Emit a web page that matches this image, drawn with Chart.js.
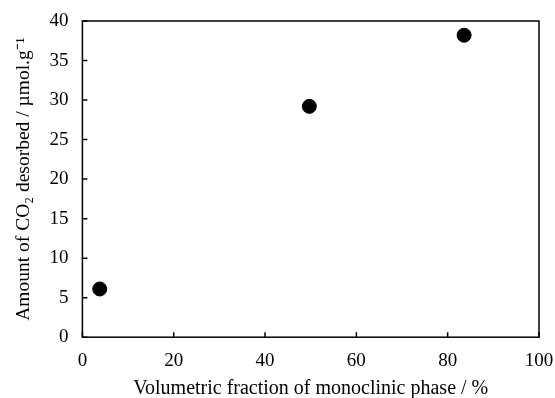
<!DOCTYPE html>
<html>
<head>
<meta charset="utf-8">
<script src="https://cdn.jsdelivr.net/npm/chart.js@4"></script>
<style>
  html, body { margin: 0; padding: 0; background: #fff; }
  #wrap { width: 555px; height: 398px; }
</style>
</head>
<body>
<div id="wrap"><canvas id="myChart"></canvas></div>
<script>
const fraction = [3.8, 49.7, 83.6];
const co2 = [6.1, 29.2, 38.2];
const xTicks = [0, 20, 40, 60, 80, 100];
const yTicks = [0, 5, 10, 15, 20, 25, 30, 35, 40];

const points = fraction.map((x, i) => ({ x: x, y: co2[i] }));

// frame + inward ticks
const framePlugin = {
  id: "frame",
  afterDraw(chart) {
    const c = chart.ctx;
    const a = chart.chartArea;
    const xs = chart.scales.x;
    const ys = chart.scales.y;
    c.save();
    c.strokeStyle = "#000";
    c.lineWidth = 1.5;
    c.strokeRect(a.left, a.top, a.right - a.left, a.bottom - a.top);
    c.beginPath();
    xTicks.forEach((v) => {
      const px = xs.getPixelForValue(v);
      c.moveTo(px, a.bottom);
      c.lineTo(px, a.bottom - 5);
    });
    yTicks.forEach((v) => {
      const py = ys.getPixelForValue(v);
      c.moveTo(a.left, py);
      c.lineTo(a.left + 5, py);
    });
    c.stroke();
    c.restore();
  },
};

const ctx = document.getElementById("myChart");

new Chart(ctx, {
  type: "scatter",
  data: {
    datasets: [
      {
        data: points,
        backgroundColor: "#000",
        borderColor: "#000",
        pointRadius: 7,
        pointHoverRadius: 7,
      },
    ],
  },
  options: {
    responsive: true,
    maintainAspectRatio: false,
    animation: false,
    layout: { padding: { left: 12, right: 16, top: 21, bottom: -3 } },
    plugins: { legend: { display: false }, tooltip: { enabled: false } },
    scales: {
      x: {
        type: "linear",
        min: 0,
        max: 100,
        afterBuildTicks: (s) => { s.ticks = xTicks.map((v) => ({ value: v })); },
        afterFit: (s) => { s.paddingLeft = 0; s.paddingRight = 0; },
        grid: { display: false, drawTicks: false },
        border: { display: false },
        ticks: {
          padding: 12,
          color: "#000",
          font: { family: "Liberation Serif", size: 19 },
        },
        title: {
          display: true,
          text: "Volumetric fraction of monoclinic phase / %",
          color: "#000",
          font: { family: "Liberation Serif", size: 20 },
          padding: { top: -7, bottom: 0 },
        },
      },
      y: {
        type: "linear",
        min: 0,
        max: 40,
        afterBuildTicks: (s) => { s.ticks = yTicks.map((v) => ({ value: v })); },
        afterFit: (s) => { s.paddingTop = 0; s.paddingBottom = 0; },
        grid: { display: false, drawTicks: false },
        border: { display: false },
        ticks: {
          padding: 14,
          color: "#000",
          font: { family: "Liberation Serif", size: 19 },
        },
        title: {
          display: true,
          text: "Amount of CO\u2082 desorbed / \u00b5mol.g\u207b\u00b9",
          color: "#000",
          font: { family: "Liberation Serif", size: 19.5 },
          padding: { top: 0, bottom: 0 },
        },
      },
    },
  },
  plugins: [framePlugin],
});
</script>
</body>
</html>
